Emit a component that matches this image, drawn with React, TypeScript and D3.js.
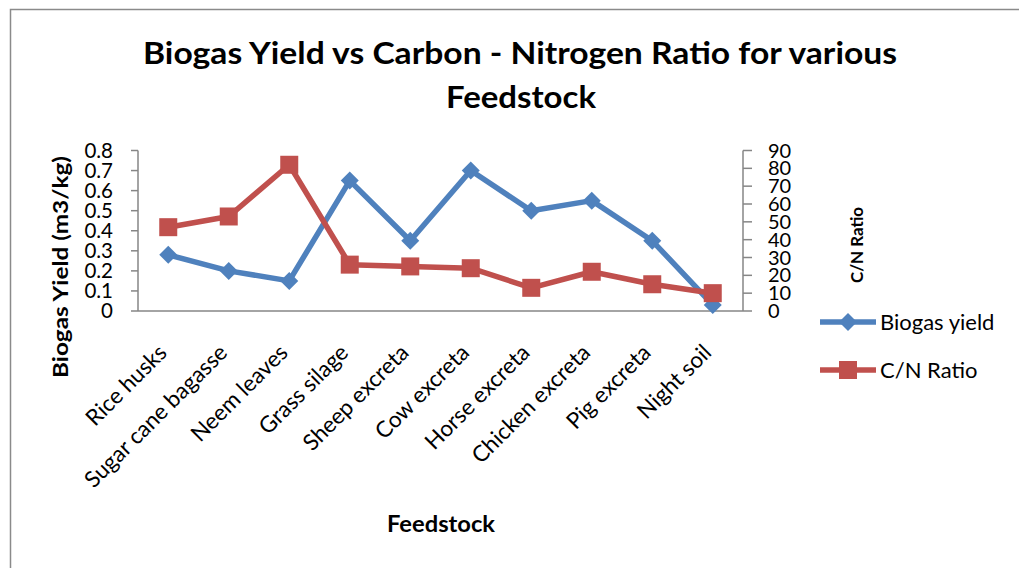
import React from "react";
import * as d3 from "d3";

const categories = [
  "Rice husks",
  "Sugar cane bagasse",
  "Neem leaves",
  "Grass silage",
  "Sheep excreta",
  "Cow excreta",
  "Horse excreta",
  "Chicken excreta",
  "Pig excreta",
  "Night soil",
];
const biogasYield = [0.28, 0.2, 0.15, 0.65, 0.35, 0.7, 0.5, 0.55, 0.35, 0.03];
const cnRatio = [47, 53, 82, 26, 25, 24, 13, 22, 15, 10];
const leftTicks = [0, 0.1, 0.2, 0.3, 0.4, 0.5, 0.6, 0.7, 0.8];
const rightTicks = [0, 10, 20, 30, 40, 50, 60, 70, 80, 90];

const W = 1019;
const H = 568;
const FONT = "Lato, 'Open Sans', sans-serif";
const BLUE = "#4F81BD";
const RED = "#C0504D";
const AXIS = "#868686";

export default function App() {
  const plotL = 138, plotR = 743, plotT = 150.5, plotB = 311;
  const x = d3.scaleBand<string>().domain(categories).range([plotL, plotR]);
  const cx = (c: string) => (x(c) as number) + x.bandwidth() / 2;
  const yL = d3.scaleLinear().domain([0, 0.8]).range([plotB, plotT]);
  const yR = d3.scaleLinear().domain([0, 90]).range([plotB, plotT]);

  const lineL = d3
    .line<number>()
    .x((_, i) => cx(categories[i]))
    .y((d) => yL(d));
  const lineR = d3
    .line<number>()
    .x((_, i) => cx(categories[i]))
    .y((d) => yR(d));

  const diamond = (px: number, py: number, r: number) =>
    `M${px},${py - r}L${px + r},${py}L${px},${py + r}L${px - r},${py}Z`;

  return (
    <div style={{ position: "absolute", left: 0, top: 0 }}>
      <svg width={W} height={H} style={{ display: "block", fontFamily: FONT }}>
        <rect x={0} y={0} width={W} height={H} fill="#fff" />
        {/* chart border */}
        <path d={`M10.5,${H}L10.5,9.5L${W},9.5`} fill="none" stroke="#8a8a8a" strokeWidth={1.5} />

        {/* title */}
        <text x={520} y={64} textAnchor="middle" fontWeight="bold" fontSize={30}
          textLength={754} lengthAdjust="spacingAndGlyphs">
          Biogas Yield vs Carbon - Nitrogen Ratio for various
        </text>
        <text x={521} y={108} textAnchor="middle" fontWeight="bold" fontSize={30}
          textLength={150} lengthAdjust="spacingAndGlyphs">
          Feedstock
        </text>

        {/* axes */}
        <line x1={plotL} x2={plotL} y1={plotT} y2={plotB} stroke={AXIS} strokeWidth={1.5} />
        <line x1={plotR} x2={plotR} y1={plotT} y2={plotB} stroke={AXIS} strokeWidth={1.5} />
        <line x1={plotL} x2={plotR} y1={plotB} y2={plotB} stroke={AXIS} strokeWidth={1.5} />
        {leftTicks.map((t) => (
          <g key={"l" + t}>
            <line x1={plotL - 7} x2={plotL} y1={yL(t)} y2={yL(t)} stroke={AXIS} strokeWidth={1.5} />
            <text x={113} y={yL(t)} dy="0.35em" textAnchor="end" fontSize={20.5}>
              {t === 0 ? "0" : t.toFixed(1)}
            </text>
          </g>
        ))}
        {rightTicks.map((t) => (
          <g key={"r" + t}>
            <line x1={plotR} x2={plotR + 9} y1={yR(t)} y2={yR(t)} stroke={AXIS} strokeWidth={1.5} />
            <text x={768} y={yR(t)} dy="0.35em" textAnchor="start" fontSize={20}>
              {t}
            </text>
          </g>
        ))}

        {/* category labels */}
        {categories.map((c) => (
          <text key={c} transform={`translate(${cx(c)},${354}) rotate(-45)`}
            textAnchor="end" fontSize={22.5}>
            {c}
          </text>
        ))}

        {/* axis titles */}
        <text transform={`translate(68,267) rotate(-90)`} textAnchor="middle" fontWeight="bold" fontSize={20}
          textLength={222} lengthAdjust="spacingAndGlyphs">
          Biogas Yield (m3/kg)
        </text>
        <text transform={`translate(863,245) rotate(-90)`} textAnchor="middle" fontWeight="bold" fontSize={17}
          textLength={76} lengthAdjust="spacingAndGlyphs">
          C/N Ratio
        </text>
        <text x={441} y={532} textAnchor="middle" fontWeight="bold" fontSize={22}
          textLength={108} lengthAdjust="spacingAndGlyphs">
          Feedstock
        </text>

        {/* series */}
        <path d={lineL(biogasYield) || ""} fill="none" stroke={BLUE} strokeWidth={5.5} strokeLinejoin="round" />
        {biogasYield.map((v, i) => (
          <path key={"d" + i} d={diamond(cx(categories[i]), yL(v), 9)} fill={BLUE} />
        ))}
        <path d={lineR(cnRatio) || ""} fill="none" stroke={RED} strokeWidth={5.5} strokeLinejoin="round" />
        {cnRatio.map((v, i) => (
          <rect key={"s" + i} x={cx(categories[i]) - 9} y={yR(v) - 9} width={18} height={18} fill={RED} />
        ))}

        {/* legend */}
        <line x1={820} x2={876} y1={322} y2={322} stroke={BLUE} strokeWidth={5.5} />
        <path d={diamond(848, 322, 9)} fill={BLUE} />
        <text x={880} y={322} dy="0.35em" fontSize={22}>Biogas yield</text>
        <line x1={820} x2={876} y1={370} y2={370} stroke={RED} strokeWidth={5.5} />
        <rect x={839} y={361} width={18} height={18} fill={RED} />
        <text x={880} y={370} dy="0.35em" fontSize={22}>C/N Ratio</text>
      </svg>
    </div>
  );
}
